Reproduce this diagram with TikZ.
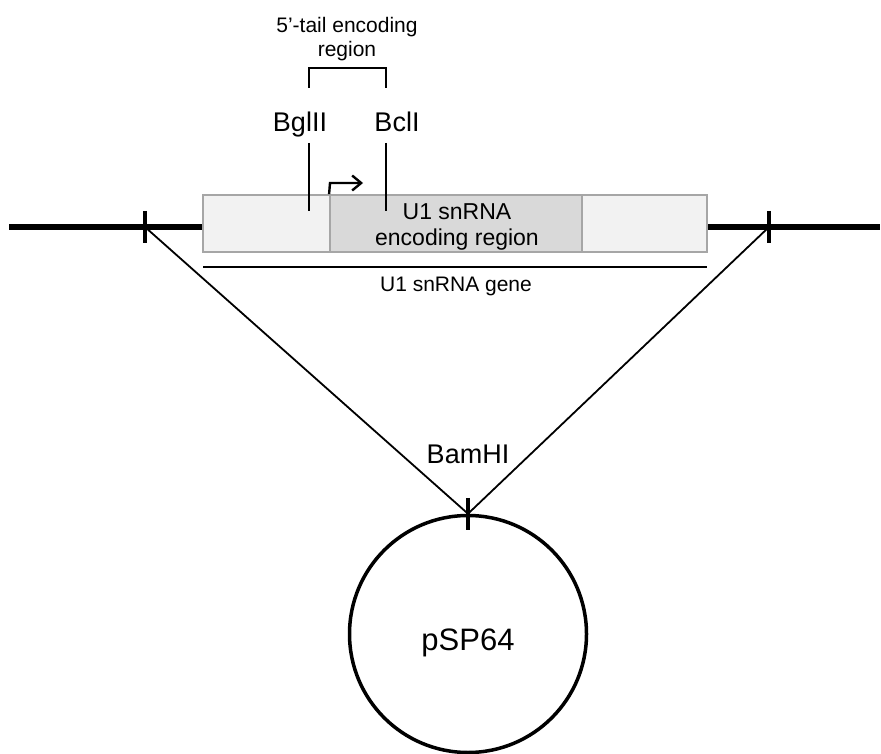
\documentclass[tikz,border=0pt]{standalone}
\usepackage{fontspec}
\setmainfont{Liberation Sans}
\usetikzlibrary{positioning,arrows.meta}

\definecolor{boxgray}{HTML}{F2F2F2}
\definecolor{codgray}{HTML}{D9D9D9}
\definecolor{edgegray}{HTML}{A6A6A6}

\newcommand\sitetick[1]{\draw[tick] ([yshift=16pt]#1) -- ([yshift=-16pt]#1);}
\newcommand\fsz[2]{\fontsize{#1}{#2}\selectfont}

\tikzset{
  dna/.style={line width=5.5pt},
  tick/.style={line width=3.5pt},
  thinline/.style={line width=1.8pt},
  region/.style={draw=edgegray, line width=1.8pt, minimum height=57pt, inner sep=0pt},
  lbl/.style={inner sep=0pt, align=center}
}

\begin{document}
\begin{tikzpicture}[x=1pt, y=-1pt]
    \useasboundingbox (0,0) rectangle (881,754);

    % gene and coding region
    \node[region, fill=boxgray, minimum width=504pt] (gene) at (455,223.5) {};
    \node[region, fill=codgray, minimum width=252pt] (coding) at (456,223.5) {};
    \node[lbl, font=\fsz{23}{26}] (codtext) at (457,227)
        {U1 snRNA\\encoding region};

    % flanking dna
    \coordinate (dl) at (9,227);
    \coordinate (dr) at (880,227);
    \draw[dna] (dl) -- (gene.west |- dl);
    \draw[dna] (gene.east |- dr) -- (dr);

    % cut sites on the flanks
    \coordinate (lcut) at (145,227);
    \coordinate (rcut) at (769,227);
    \sitetick{lcut}
    \sitetick{rcut}

    % gene span
    \coordinate (gl) at (203,267);
    \coordinate (gr) at (707,267);
    \draw[thinline] (gl) -- (gr);
    \node[lbl, font=\fsz{21}{24}, below=10pt of gl -| coding] (genetext) {U1 snRNA gene};

    % promoter arrow
    \coordinate (tss) at (coding.north west);
    \coordinate (tssup) at (330,183);
    \coordinate (tssend) at (363,183);
    \draw[line width=2.4pt, -{Straight Barb[length=9pt, width=15pt, line width=2.4pt]}]
        (tss) -- (tssup) -- (tssend);

    % restriction sites in the 5' tail
    \node[lbl, font=\fsz{27}{31}, anchor=base] (bgl) at (300,132) {BglII};
    \node[lbl, font=\fsz{27}{31}, anchor=base] (bcl) at (397,132) {BclI};
    \coordinate (bgltop) at (309,143);
    \coordinate (bglbot) at (309,211);
    \coordinate (bcltop) at (386,143);
    \coordinate (bclbot) at (386,211);
    \draw[thinline] (bgltop) -- (bglbot);
    \draw[thinline] (bcltop) -- (bclbot);

    % bracket
    \coordinate (brl) at (309,88);
    \coordinate (brr) at (386,88);
    \draw[thinline] (brl) -- ++(0,-20) -| (brr);
    \node[lbl, font=\fsz{21}{24}] (tail) at (347,39) {5’-tail encoding\\region};

    % plasmid
    \node[circle, draw, line width=3.5pt, minimum size=237pt, inner sep=0pt] (plasmid) at (468,634) {};
    \node[lbl, font=\fsz{31}{36}, anchor=base] (pname) at (468,650) {pSP64};
    \draw[thinline] (lcut) -- (plasmid.north) -- (rcut);
    \sitetick{plasmid.north}
    \node[lbl, font=\fsz{27}{31}, anchor=base] (bam) at (468,463) {BamHI};
\end{tikzpicture}
\end{document}
